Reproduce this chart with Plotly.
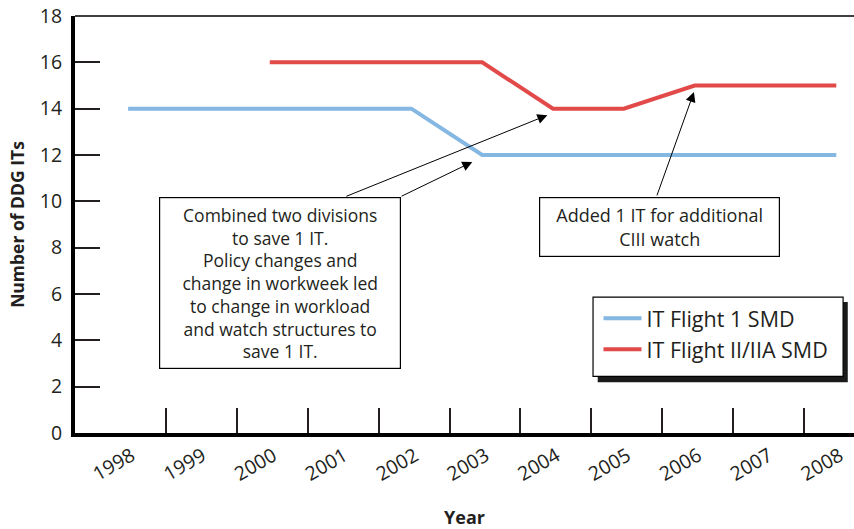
import plotly.graph_objects as go

years = [1998, 1999, 2000, 2001, 2002, 2003, 2004, 2005, 2006, 2007, 2008]
flight1 = [14, 14, 14, 14, 14, 12, 12, 12, 12, 12, 12]
flight2_years = [2000, 2001, 2002, 2003, 2004, 2005, 2006, 2007, 2008]
flight2 = [16, 16, 16, 16, 14, 14, 15, 15, 15]
year_labels = [str(y) for y in years]
y_ticks = [0, 2, 4, 6, 8, 10, 12, 14, 16, 18]

FONT = "Open Sans"
TXT = "#231f20"

fig = go.Figure()
fig.add_trace(go.Scatter(x=years, y=flight1, mode="lines", name="IT Flight 1 SMD",
                         line=dict(color="#85b7e3", width=4)))
fig.add_trace(go.Scatter(x=flight2_years, y=flight2, mode="lines", name="IT Flight II/IIA SMD",
                         line=dict(color="#e24a4a", width=4)))

fig.update_layout(
    template="none",
    width=854, height=529,
    margin=dict(l=75, r=0, t=16, b=96, autoexpand=False),
    plot_bgcolor="white", paper_bgcolor="white",
    font=dict(family=FONT, color=TXT, size=18),
    showlegend=True,
    legend=dict(x=0.672, y=0.324, xanchor="left", yanchor="top",
                bgcolor="rgba(0,0,0,0)", borderwidth=0, itemwidth=38,
                font=dict(size=21.5, family=FONT, color=TXT), tracegroupgap=0),
)

fig.update_xaxes(
    range=[1997.25, 2008.25], tickmode="array", tickvals=[y + 0.05 for y in years],
    ticktext=year_labels,
    tickangle=-30, ticks="", showgrid=False, zeroline=False, automargin=False,
    showline=True, linecolor="black", linewidth=4,
    tickfont=dict(size=19.5, family=FONT, color=TXT),
    minor=dict(tickmode="array", tickvals=[y + 0.54 for y in years[:-1]],
               ticks="inside", ticklen=25, tickwidth=2, tickcolor=TXT, showgrid=False),
    title=dict(text="<b>Year</b>", font=dict(size=18, family=FONT, color=TXT), standoff=28),
)
fig.update_yaxes(
    range=[0, 18], tickmode="array", tickvals=y_ticks,
    ticks="inside", ticklen=25, tickwidth=2, tickcolor=TXT,
    showgrid=False, zeroline=False, automargin=False,
    showline=True, linecolor="black", linewidth=4,
    tickfont=dict(size=19.5, family=FONT, color=TXT),
    ticklabelstandoff=5,
    title=dict(text="<b>Number of DDG ITs</b>", font=dict(size=17.5, family=FONT, color=TXT), standoff=12),
)

# top frame line
fig.add_shape(type="line", xref="paper", yref="paper", x0=0, x1=1, y0=1, y1=1,
              line=dict(color="black", width=1.5))

# legend frame with drop shadow
fig.add_shape(type="rect", xref="paper", yref="paper", x0=0.671, x1=0.992, y0=0.122, y1=0.314,
              line=dict(width=0), fillcolor="#1a1a1a", layer="above")
fig.add_shape(type="rect", xref="paper", yref="paper", x0=0.665, x1=0.986, y0=0.136, y1=0.326,
              line=dict(color="black", width=1.2), fillcolor="white", layer="above")

# annotation boxes
box1 = ("Combined two divisions<br>to save 1 IT.<br>Policy changes and<br>"
        "change in workweek led<br>to change in workload<br>and watch structures to<br>save 1 IT.")
box2 = "Added 1 IT for additional<br>CIII watch"
fig.add_annotation(x=2000.15, y=6.47, xref="x", yref="y", text=box1, showarrow=False,
                   width=240, height=170, borderwidth=1.2, bordercolor="black", borderpad=0,
                   bgcolor="white", align="center", valign="middle",
                   font=dict(size=17.5, family=FONT, color=TXT))
fig.add_annotation(x=2005.51, y=8.91, xref="x", yref="y", text=box2, showarrow=False,
                   width=239, height=58, borderwidth=1.2, bordercolor="black", borderpad=0,
                   bgcolor="white", align="center", valign="middle",
                   font=dict(size=18, family=FONT, color=TXT))

# arrows
arrows = [
    (2003.92, 13.72, 2001.06, 10.19),
    (2002.86, 11.70, 2001.84, 10.19),
    (2005.99, 14.72, 2005.46, 10.19),
]
for x, y, ax, ay in arrows:
    fig.add_annotation(x=x, y=y, ax=ax, ay=ay, xref="x", yref="y", axref="x", ayref="y",
                       text="", showarrow=True, arrowhead=2, arrowsize=2, arrowwidth=1,
                       arrowcolor="black")

fig.write_html("out.html", config={"displayModeBar": False},
               post_script="document.body.style.margin='0';")
